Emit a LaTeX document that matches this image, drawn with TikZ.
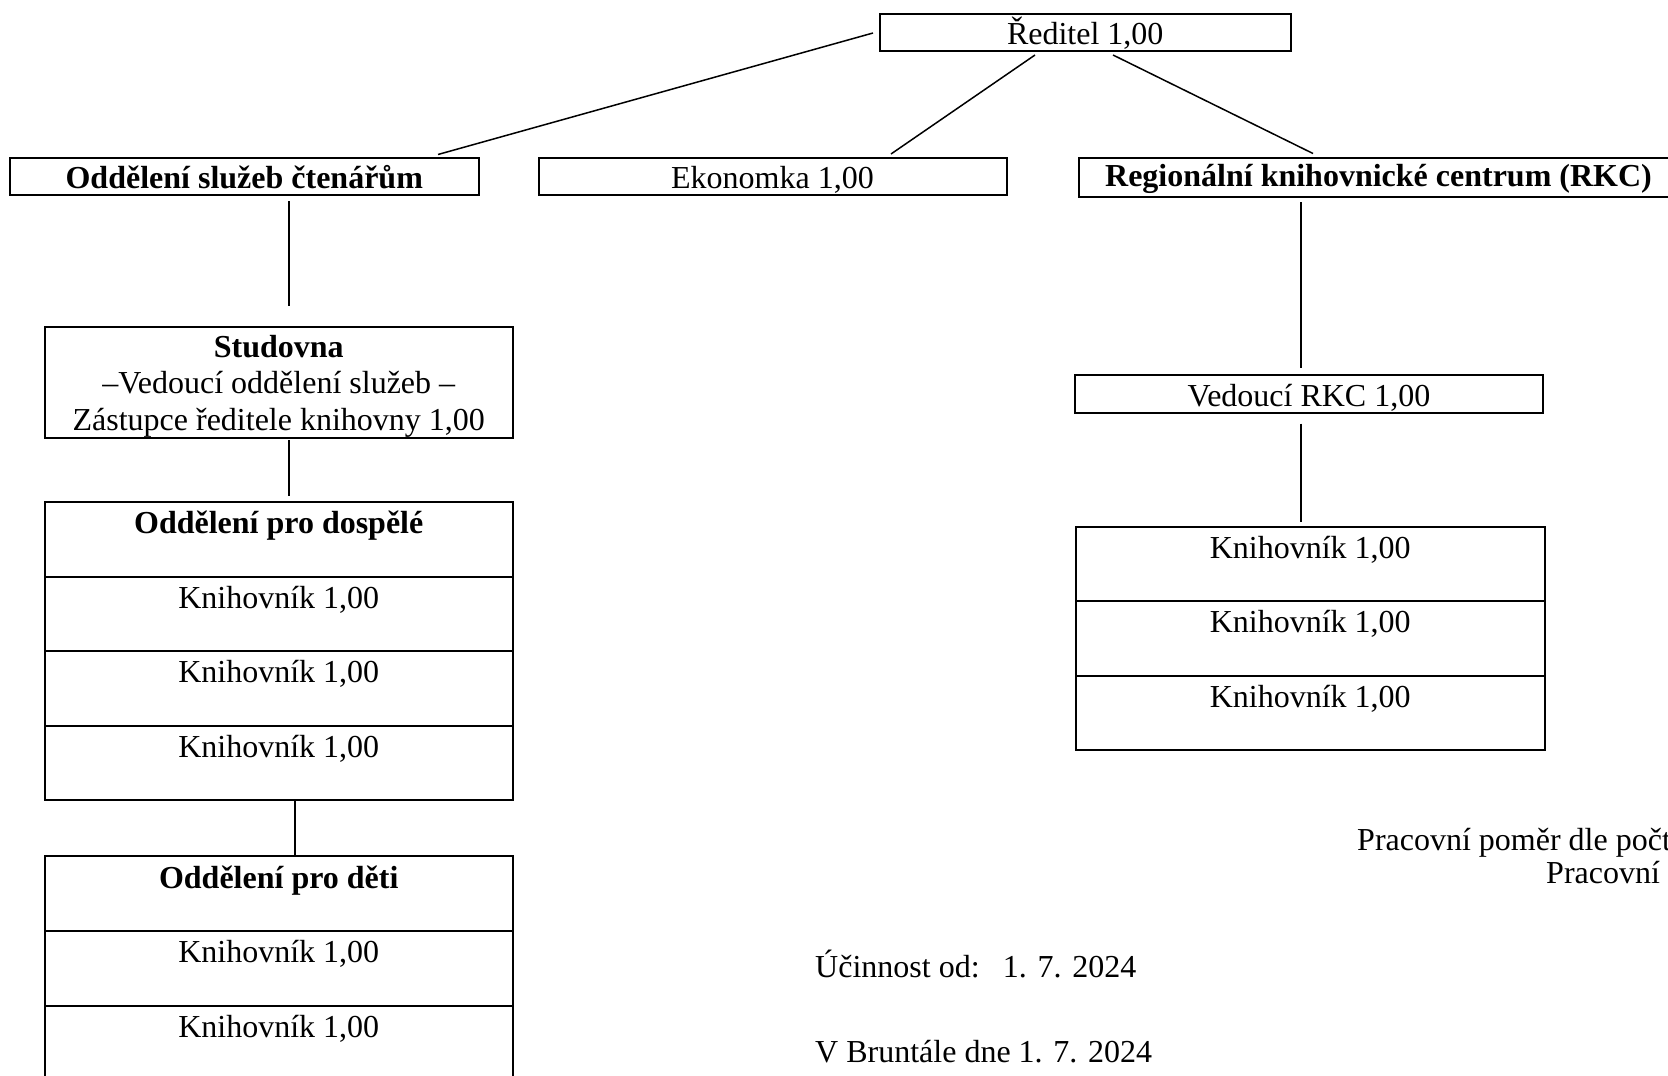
\documentclass[tikz,border=0pt]{standalone}
\usepackage{fontspec}
\setmainfont{Liberation Serif}
\usetikzlibrary{calc}
\begin{document}
\begin{tikzpicture}[x=1pt,y=-1pt,
  every node/.style={font=\fontsize{32}{36.5}\selectfont, inner sep=0pt},
  box/.style={draw, line width=2pt, anchor=north west},
  one/.style={box, text height=30.5pt, text depth=7pt},
  cell/.style={box, minimum width=468.5pt, text height=31.5pt, text depth=43pt},
  conn/.style={line width=1.5pt},
  note/.style={anchor=base west}]
\useasboundingbox (0,0) rectangle (1668,1076);
% top level
\node[box, minimum width=411.5pt, text height=31pt, text depth=6.5pt] (reditel) at (878.5,12.5) {Ředitel 1,00};
\node[one, minimum width=468.5pt] (odd) at (9,156.5) {\textbf{Oddělení služeb čtenářům}};
\node[one, minimum width=468pt] (ekon) at (537.5,156.5) {Ekonomka 1,00};
\node[box, minimum width=599pt, text height=28.5pt, text depth=10.5pt] (rkc) at (1078,157) {\textbf{Regionální knihovnické centrum (RKC)}};
% left branch
\node[box, minimum width=468.5pt, text height=30.5pt, text depth=81pt] (stud) at (43.5,325.5)
  {\begin{tabular}[t]{@{}c@{}}\textbf{Studovna}\\–Vedoucí oddělení služeb –\\Zástupce ředitele knihovny 1,00\end{tabular}};
\node[cell] (dosp) at (43.5,501) {\textbf{Oddělení pro dospělé}};
\node[cell] (dk1) at (43.5,575.5) {Knihovník 1,00};
\node[cell] (dk2) at (43.5,650) {Knihovník 1,00};
\node[cell] (dk3) at (43.5,724.5) {Knihovník 1,00};
\node[cell, text height=32pt, text depth=42.5pt] (deti) at (43.5,855) {\textbf{Oddělení pro děti}};
\node[cell] (dt1) at (43.5,930) {Knihovník 1,00};
\node[cell] (dt2) at (43.5,1005) {Knihovník 1,00};
% right branch
\node[box, minimum width=468pt, text height=31pt, text depth=6.5pt] (ved) at (1074,374) {Vedoucí RKC 1,00};
\node[cell, minimum width=469.5pt] (rk1) at (1074.5,525.5) {Knihovník 1,00};
\node[cell, minimum width=469.5pt] (rk2) at (1074.5,600) {Knihovník 1,00};
\node[cell, minimum width=469.5pt] (rk3) at (1074.5,674.5) {Knihovník 1,00};
% notes
\node[note] (prac1) at (1357,850) {Pracovní poměr dle počt};
\node[note] (prac2) at (1546,883) {Pracovní};
\node[note] (ucin) at (815,977) {Účinnost od:\hspace{0.73em}1. 7. 2024};
\node[note] (brun) at (815,1062.5) {V Bruntále dne 1. 7. 2024};
% connectors
\draw[conn] ($(reditel.west)+(-5.5,0.75)$) -- ($(odd.north)+(193.75,-2)$);
\draw[conn] ($(reditel.south)+(-50.25,3)$) -- ($(ekon.north)+(118.5,-2.5)$);
\draw[conn] ($(reditel.south)+(27.75,3)$) -- ($(rkc.north)+(-65.5,-3.5)$);
\draw[conn] ($(odd.south)+(44.75,5)$) -- ($(stud.north)+(10.25,-19.5)$);
\draw[conn] ($(stud.south)+(10.25,1)$) -- ($(dosp.north)+(10.25,-5)$);
\draw[conn] ($(dk3.south)+(16.25,0)$) -- ($(deti.north)+(16.25,0)$);
\draw[conn] ($(rkc.south)+(-77.5,4)$) -- ($(ved.north)+(-8,-6)$);
\draw[conn] ($(ved.south)+(-8,10)$) -- ($(rk1.north)+(-9.25,-4)$);
\end{tikzpicture}
\end{document}
